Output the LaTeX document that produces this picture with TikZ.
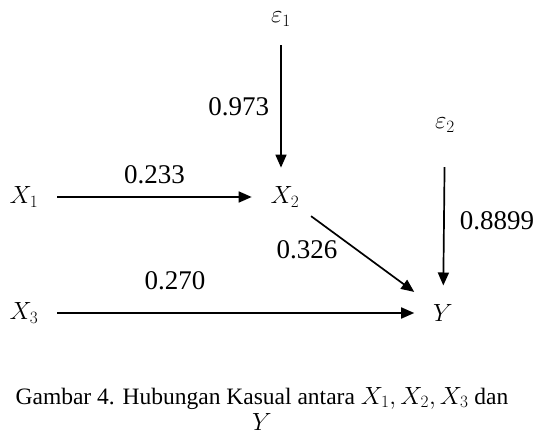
\documentclass[tikz,border=0pt]{standalone}
\usepackage{fontspec}
\setmainfont{Liberation Serif}
\usetikzlibrary{arrows.meta}

\begin{document}
\begin{tikzpicture}[x=1pt,y=-1pt,var/.style={inner sep=0pt,outer sep=19pt,font=\fontsize{24}{28}\selectfont},coef/.style={inner sep=0pt,font=\fontsize{27}{30}\selectfont},caption/.style={anchor=base,inner sep=0pt,font=\fontsize{23.5}{26}\selectfont},arrow/.style={-{Triangle[length=13pt,width=11pt]},line width=1.7pt}]
\useasboundingbox (0,0) rectangle (540,436);
\node[var] (e1) at (281,19) {$\varepsilon_1$};
\node[var] (e2) at (445,125) {$\varepsilon_2$};
\node[var] (x1) at (24,197) {$X_1$};
\node[var] (x2) at (285,197) {$X_2$};
\node[var] (x3) at (24,313) {$X_3$};
\node[var] (y) at (443,313) {$Y$};
\draw[arrow] (e1)--(e1|-x2.north) node[coef,midway,left=11pt] {0.973};
\draw[arrow] (x1)--(x2) node[coef,midway,above=12pt] {0.233};
\draw[arrow,shorten <=-9pt] (x2)--(y) node[coef,midway,left=28pt,yshift=7pt] {0.326};
\draw[arrow,shorten <=16pt] (e2)--(y) node[coef,midway,right=15pt,yshift=-2pt] {0.8899};
\draw[arrow] (x3)--(y) node[coef,pos=.33,above=22pt] {0.270};
% caption, two lines
\node[caption] (cap) at (262,404) {Gambar 4. Hubungan Kasual antara $X_1,X_2,X_3$ dan};
\node[caption] (capy) at (262,430) {$Y$};
\end{tikzpicture}
\end{document}
